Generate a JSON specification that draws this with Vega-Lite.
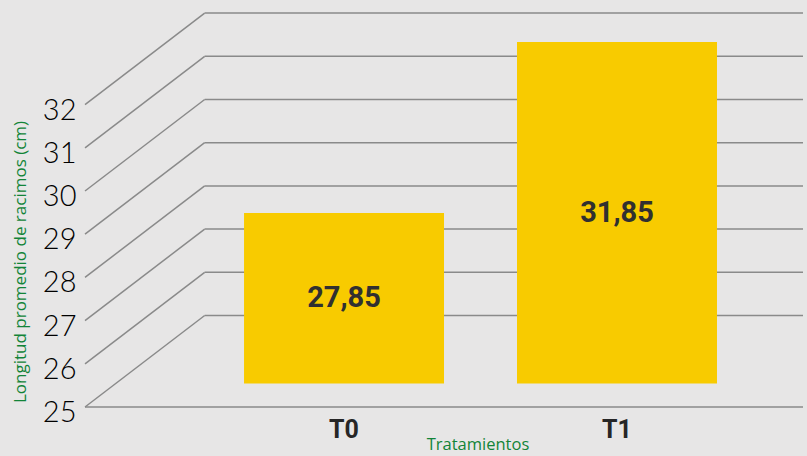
{
  "$schema": "https://vega.github.io/schema/vega-lite/v6.json",
  "width": 718,
  "height": 394,
  "autosize": {"type": "none"},
  "padding": {"left": 85, "top": 13, "right": 4, "bottom": 49},
  "background": "#e7e6e6",
  "config": {
    "view": {"stroke": null},
    "locale": {"number": {"decimal": ",", "thousands": ".", "grouping": [3], "currency": ["", " €"]}}
  },
  "datasets": {
    "niveles": [{"v": 25}, {"v": 26}, {"v": 27}, {"v": 28}, {"v": 29}, {"v": 30}, {"v": 31}, {"v": 32}],
    "medias": [
      {"tratamiento": "T0", "valor": 27.85},
      {"tratamiento": "T1", "valor": 31.85}
    ]
  },
  "layer": [
    {
      "data": {"name": "niveles"},
      "layer": [
        {
          "mark": {"type": "rule", "color": "#8a8a8a", "strokeWidth": 1.5, "y2Offset": -91.5},
          "encoding": {
            "x": {"datum": 0, "type": "quantitative", "scale": {"domain": [0, 6], "nice": false, "zero": false}, "axis": null},
            "x2": {"datum": 1},
            "y": {
              "field": "v", "type": "quantitative",
              "scale": {"domain": [25, 34.12], "nice": false, "zero": false},
              "axis": {
                "orient": "left",
                "values": [25, 26, 27, 28, 29, 30, 31, 32],
                "domain": false, "ticks": false, "tickSize": 0, "grid": false,
                "labelFont": "Lato", "labelFontWeight": 300, "labelFontSize": 29, "labelColor": "#000000",
                "labelPadding": 9, "labelBaseline": "middle", "labelOffset": 5.5,
                "title": "Longitud promedio de racimos (cm)",
                "titleFont": "Open Sans", "titleFontWeight": "normal", "titleFontSize": 17, "titleColor": "#128438",
                "titleAngle": -90, "titleX": -65, "titleY": 248.5, "titleAlign": "center", "titleBaseline": "middle"
              }
            },
            "y2": {"field": "v"}
          }
        },
        {
          "mark": {"type": "rule", "color": "#8a8a8a", "strokeWidth": 1.5, "yOffset": -91.5},
          "encoding": {
            "x": {"datum": 1, "type": "quantitative"},
            "x2": {"datum": 6},
            "y": {"field": "v", "type": "quantitative"}
          }
        },
        {
          "transform": [{"filter": "datum.v == 25"}],
          "mark": {"type": "rule", "color": "#8a8a8a", "strokeWidth": 1.5},
          "encoding": {
            "x": {"datum": 0, "type": "quantitative"},
            "x2": {"datum": 6},
            "y": {"field": "v", "type": "quantitative"}
          }
        }
      ]
    },
    {
      "data": {"name": "medias"},
      "mark": {"type": "bar", "color": "#f8cb00"},
      "encoding": {
        "x": {
          "field": "tratamiento", "type": "nominal",
          "scale": {"type": "band", "paddingInner": 0.2674, "paddingOuter": 0.4488, "align": 0.649},
          "axis": {
            "orient": "bottom",
            "domain": false, "ticks": false, "tickSize": 0, "grid": false, "labelAngle": 0,
            "labelFont": "Roboto", "labelFontWeight": "bold", "labelFontSize": 25, "labelColor": "#262626",
            "labelPadding": 30, "labelBaseline": "alphabetic",
            "title": "Tratamientos",
            "titleFont": "Open Sans", "titleFontWeight": "normal", "titleFontSize": 16.5, "titleColor": "#128438",
            "titleX": 392.5, "titleY": 42.5, "titleAlign": "center", "titleBaseline": "alphabetic"
          }
        },
        "y": {"field": "valor", "type": "quantitative", "scale": {"domain": [23.31, 32.53], "nice": false, "zero": false}, "axis": null},
        "y2": {"datum": 23.86}
      }
    },
    {
      "data": {"name": "medias"},
      "mark": {"type": "text", "font": "Roboto", "fontWeight": "bold", "fontSize": 29, "color": "#303030", "baseline": "middle", "align": "center"},
      "encoding": {
        "x": {
          "field": "tratamiento", "type": "nominal",
          "scale": {"type": "band", "paddingInner": 0.2674, "paddingOuter": 0.4488, "align": 0.649},
          "axis": null
        },
        "y": {"field": "valor", "type": "quantitative", "scale": {"domain": [22.77, 41.2], "nice": false, "zero": false}, "axis": null},
        "text": {"field": "valor", "type": "quantitative", "format": ".2f"}
      }
    }
  ],
  "resolve": {"scale": {"x": "independent", "y": "independent"}}
}
